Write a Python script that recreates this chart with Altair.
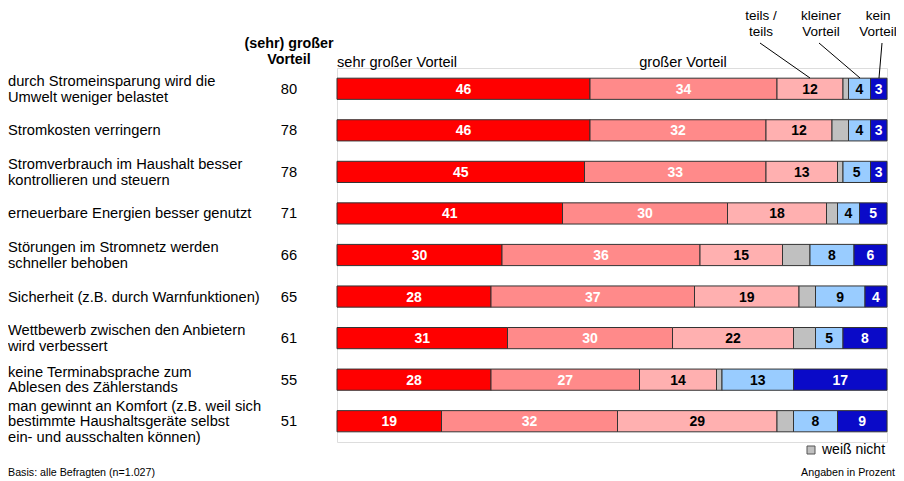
import altair as alt
import pandas as pd

labels = [
    "durch Stromeinsparung wird die\nUmwelt weniger belastet",
    "Stromkosten verringern",
    "Stromverbrauch im Haushalt besser\nkontrollieren und steuern",
    "erneuerbare Energien besser genutzt",
    "Störungen im Stromnetz werden\nschneller behoben",
    "Sicherheit (z.B. durch Warnfunktionen)",
    "Wettbewerb zwischen den Anbietern\nwird verbessert",
    "keine Terminabsprache zum\nAblesen des Zählerstands",
    "man gewinnt an Komfort (z.B. weil sich\nbestimmte Haushaltsgeräte selbst\nein- und ausschalten können)",
]
total = [80, 78, 78, 71, 66, 65, 61, 55, 51]
sehr_gross = [46, 46, 45, 41, 30, 28, 31, 28, 19]
gross = [34, 32, 33, 30, 36, 37, 30, 27, 32]
teils = [12, 12, 13, 18, 15, 19, 22, 14, 29]
weiss_nicht = [1, 3, 1, 2, 5, 3, 4, 1, 3]
kleiner = [4, 4, 5, 4, 8, 9, 5, 13, 8]
kein = [3, 3, 3, 5, 6, 4, 8, 17, 9]

series_names = ["sehr großer Vorteil", "großer Vorteil", "teils/teils",
                "weiß nicht", "kleiner Vorteil", "kein Vorteil"]
series_vals = [sehr_gross, gross, teils, weiss_nicht, kleiner, kein]
series_colors = ["#ff0000", "#ff8a8a", "#ffb0b0", "#c0c0c0", "#99ccff", "#0a0ac8"]
white_text = ["sehr großer Vorteil", "großer Vorteil", "kein Vorteil"]
black_text = ["teils/teils", "kleiner Vorteil"]

rows = []
for i in range(len(labels)):
    start = 0
    for name, vals in zip(series_names, series_vals):
        v = vals[i]
        rows.append(dict(idx=i, series=name, value=v, start=start,
                         end=start + v, mid=start + v / 2))
        start += v
df = pd.DataFrame(rows)
lab_df = pd.DataFrame({"idx": list(range(len(labels))), "label": labels, "total": total,
                       "nlines": [lab.count("\n") + 1 for lab in labels]})

FONT = "Liberation Sans"
W, H = 550, 374
LH = 15.5
LABEL_SIZE = 14.7

yenc = alt.Y("idx:O", axis=None,
             scale=alt.Scale(paddingInner=0.49, paddingOuter=0.245))
xscale = alt.Scale(domain=[0, 100], nice=False, zero=True)

base = alt.Chart(df)

bars = base.mark_bar(stroke="#333333", strokeWidth=1, cornerRadius=0).encode(
    x=alt.X("start:Q", scale=xscale, axis=None),
    x2="end:Q",
    y=yenc,
    color=alt.Color("series:N", scale=alt.Scale(domain=series_names, range=series_colors),
                    legend=None),
)

txt_white = base.transform_filter(
    alt.FieldOneOfPredicate(field="series", oneOf=white_text)
).mark_text(font=FONT, fontSize=14, fontWeight="bold", color="white", baseline="middle", dy=1).encode(
    x=alt.X("mid:Q", scale=xscale), y=yenc, text="value:Q")

txt_black = base.transform_filter(
    alt.FieldOneOfPredicate(field="series", oneOf=black_text)
).mark_text(font=FONT, fontSize=14, fontWeight="bold", color="black", baseline="middle", dy=1).encode(
    x=alt.X("mid:Q", scale=xscale), y=yenc, text="value:Q")

left_layers = []
for n in (1, 2, 3):
    left_layers.append(
        alt.Chart(lab_df).transform_filter(alt.datum.nlines == n).mark_text(
            font=FONT, fontSize=LABEL_SIZE, align="left", baseline="middle", lineBreak="\n",
            lineHeight=LH, color="black", dy=-(n - 1) * LH / 2 + 1
        ).encode(x=alt.value(-329), y=yenc, text="label:N")
    )

totals = alt.Chart(lab_df).mark_text(
    font=FONT, fontSize=LABEL_SIZE, align="center", baseline="middle", color="black", dy=1
).encode(x=alt.value(-48), y=yenc, text="total:Q")


def note(text, x, y, align="center", size=14.5, weight="normal"):
    return alt.Chart(pd.DataFrame({"t": [text]})).mark_text(
        font=FONT, fontSize=size, align=align, baseline="middle", lineBreak="\n",
        lineHeight=16, fontWeight=weight, color="black"
    ).encode(x=alt.value(x), y=alt.value(y), text="t:N")


def leader(x1, y1, x2, y2):
    return alt.Chart(pd.DataFrame({"a": [0]})).mark_rule(color="black", strokeWidth=1).encode(
        x=alt.value(x1), y=alt.value(y1), x2=alt.value(x2), y2=alt.value(y2))


headers = [
    note("(sehr) großer\nVorteil", -48, -24, weight="bold", size=14.3),
    note("sehr großer Vorteil", 0, -5, align="left", size=14.6),
    note("großer Vorteil", 346, -5, size=14.6),
    note("teils /\nteils", 424, -52, size=13.5),
    note("kleiner\nVorteil", 484, -52, size=13.5),
    note("kein\nVorteil", 541, -52, size=13.5),
    leader(423, -25, 473, 10),
    leader(482, -25, 523, 10),
    leader(545, -25, 542, 10),
    note("weiß nicht", 485, 382, align="left", size=14),
    note("Angaben in Prozent", 558, 405, align="right", size=10.7),
    note("Basis: alle Befragten (n=1.027)", -329, 405, align="left", size=10.7),
]

legend_box = alt.Chart(pd.DataFrame({"a": [0]})).mark_rect(
    color="#c0c0c0", stroke="#555555", strokeWidth=1
).encode(x=alt.value(470), x2=alt.value(478), y=alt.value(378), y2=alt.value(386))

chart = alt.layer(bars, txt_white, txt_black, *left_layers, totals, legend_box, *headers).properties(
    width=W, height=H,
    padding={"left": 329, "top": 60, "right": 9, "bottom": 40},
    autosize=alt.AutoSizeParams(type="none"),
).configure_view(stroke=None).configure(background="white")

chart.save("out.html", embed_options={"renderer": "svg", "actions": False})
